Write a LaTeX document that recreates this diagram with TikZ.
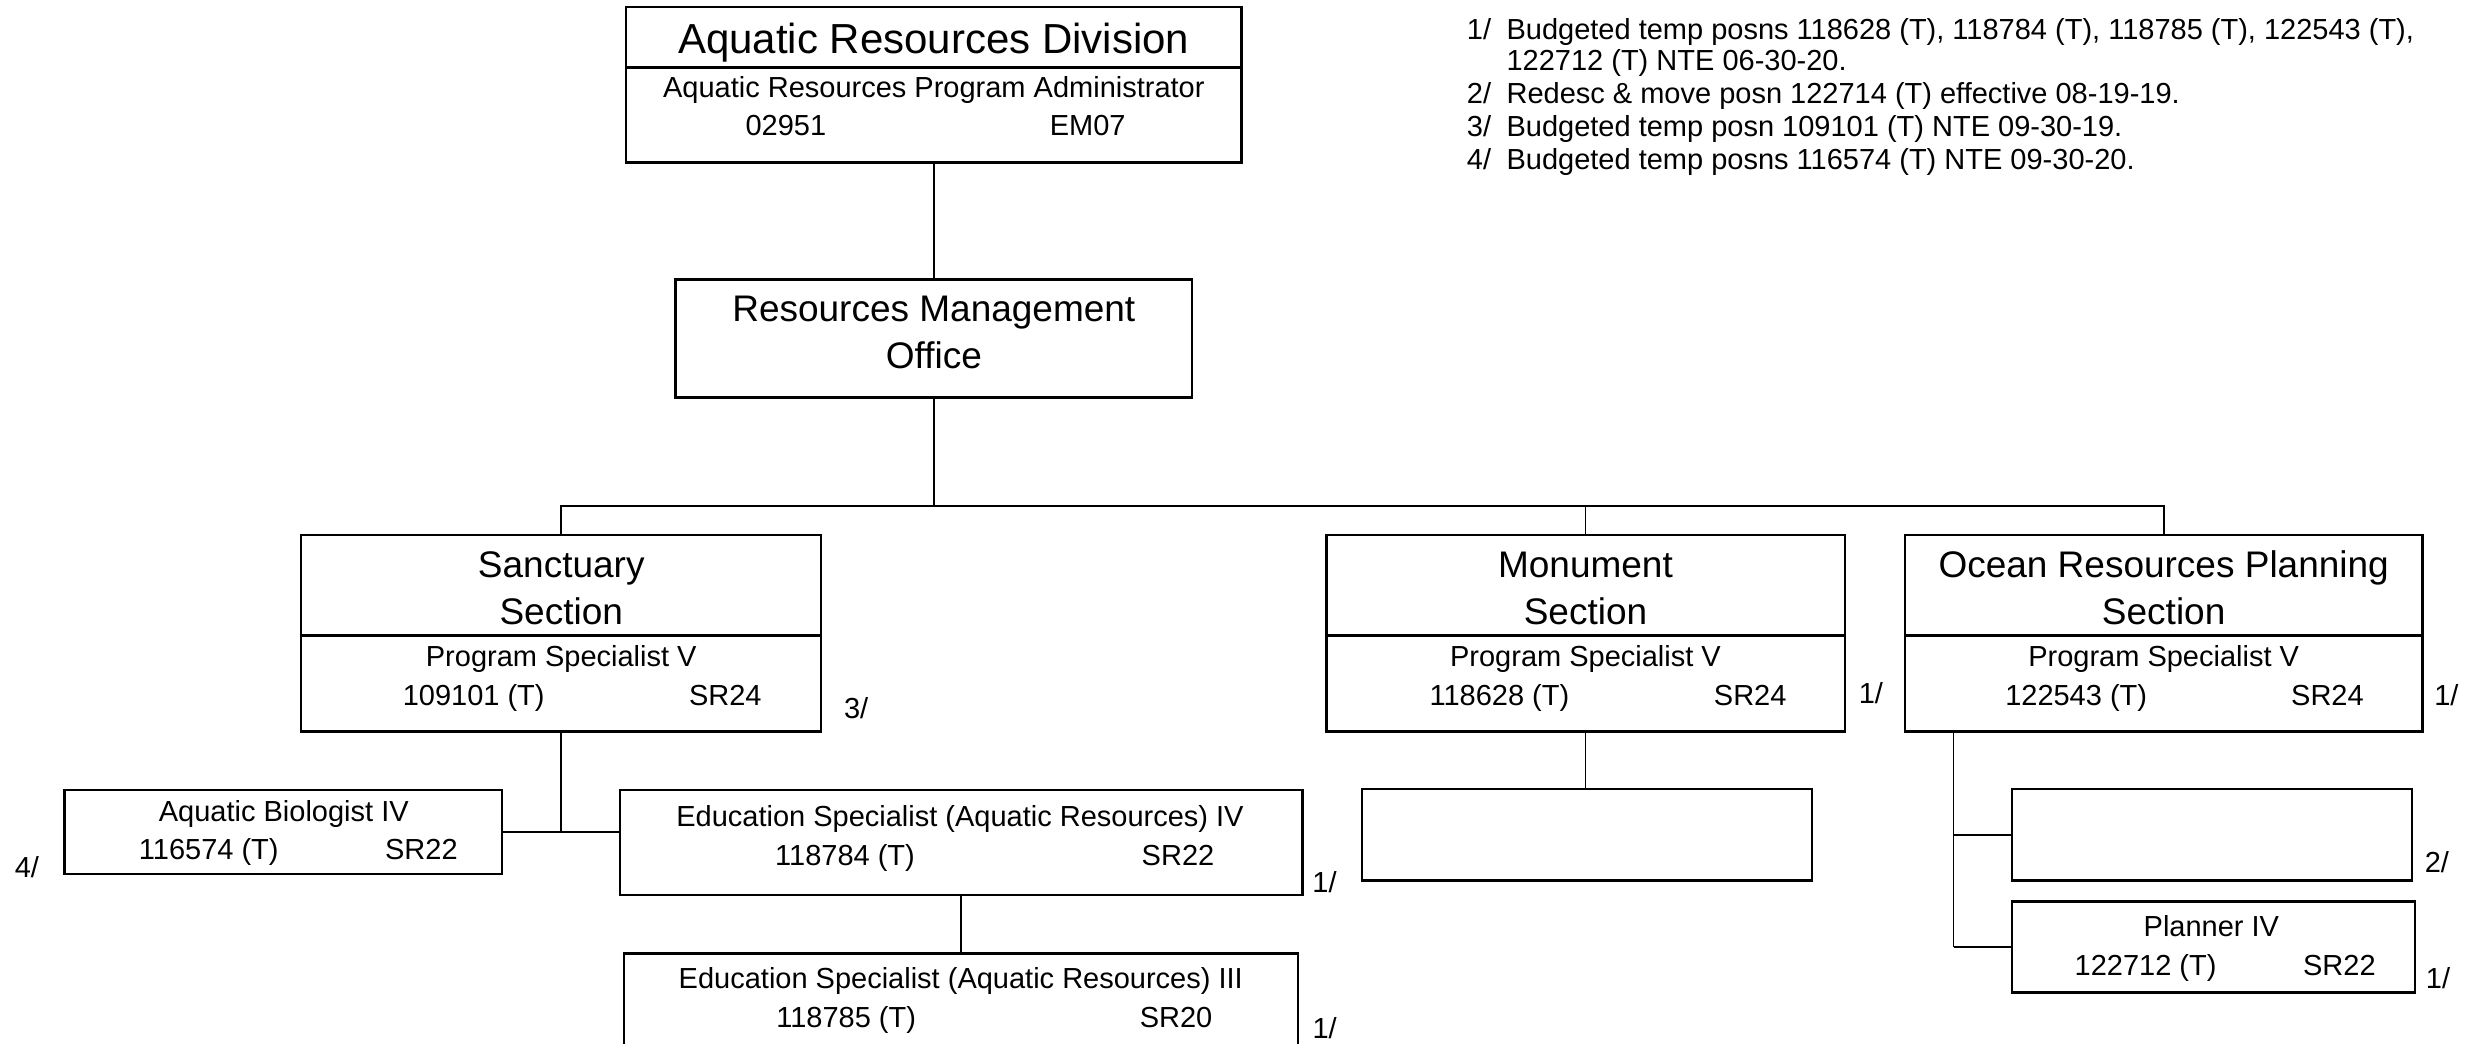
\documentclass[tikz,border=0pt]{standalone}
\usepackage{fontspec}
\setmainfont{Liberation Sans}
\usetikzlibrary{fit}
\begin{document}
\begin{tikzpicture}[x=0.7928pt,y=-0.7928pt,
  box/.style={draw, line width=1.2pt, inner sep=0pt, rectangle},
  divline/.style={line width=1.2pt},
  conn/.style={line width=0.85pt},
  branch/.style={line width=1.1pt},
  ttl/.style={font=\fontsize{21}{25}\selectfont, anchor=base, inner sep=0pt},
  big/.style={font=\fontsize{18.5}{22}\selectfont, anchor=base, inner sep=0pt},
  sm/.style={font=\fontsize{14.5}{17}\selectfont, anchor=base, inner sep=0pt},
  note/.style={font=\fontsize{14.5}{17}\selectfont, anchor=base west, inner sep=0pt}]
\useasboundingbox (0,0) rectangle (1568,658);
\clip (0,0) rectangle (1568,658);

% ---------- boxes ----------
\node[box, fit={(395,4.6) (783,102.4)}] (ard) {};
\node[box, fit={(426,176.2) (752,250.6)}] (rmo) {};
\node[box, fit={(190,337.4) (518,461.5)}] (sanct) {};
\node[box, fit={(836.6,337.4) (1163.6,461.5)}] (monu) {};
\node[box, fit={(1201.5,337.4) (1528,461.5)}] (orp) {};
\node[box, fit={(40.7,498.3) (316.8,551.1)}] (abiv) {};
\node[box, fit={(391,498.3) (821.6,564.5)}] (esiv) {};
\node[box, fit={(393.6,601.3) (818.8,680)}] (esiii) {};
\node[box, fit={(859,497.8) (1142.9,555.4)}] (monuc) {};
\node[box, fit={(1268.9,497.8) (1521.3,555.4)}] (orpc) {};
\node[box, fit={(1268.9,568.5) (1523.2,626)}] (plan) {};

% dividers
\draw[divline] (ard.west |- 0,42.7) -- (ard.east |- 0,42.7);
\draw[divline] (sanct.west |- 0,400.9) -- (sanct.east |- 0,400.9);
\draw[divline] (monu.west |- 0,400.9) -- (monu.east |- 0,400.9);
\draw[divline] (orp.west |- 0,400.9) -- (orp.east |- 0,400.9);

% ---------- texts ----------
\node[ttl] (t-ard) at (589,33.6) {Aquatic Resources Division};
\node[sm] (t-ard2) at (589,61.4) {Aquatic Resources Program Administrator};
\node[sm] (t-ard3) at (495.7,85.6) {02951};
\node[sm] (t-ard4) at (686,85.6) {EM07};

\node[big] (t-rmo1) at (589,202.9) {Resources Management};
\node[big] (t-rmo2) at (589,232.3) {Office};

\node[big] (t-s1) at (354,364.3) {Sanctuary};
\node[big] (t-s2) at (354,393.6) {Section};
\node[sm] (t-s3) at (354,420.5) {Program Specialist V};
\node[sm] (t-s4) at (298.8,444.7) {109101 (T)};
\node[sm] (t-s5) at (457.5,444.7) {SR24};
\node[sm] (f-s) at (540,453.3) {3/};

\node[big] (t-m1) at (1000,364.3) {Monument};
\node[big] (t-m2) at (1000,393.6) {Section};
\node[sm] (t-m3) at (1000,420.5) {Program Specialist V};
\node[sm] (t-m4) at (945.7,444.7) {118628 (T)};
\node[sm] (t-m5) at (1103.9,444.7) {SR24};
\node[sm] (f-m) at (1180,444) {1/};

\node[big] (t-o1) at (1364.7,364.3) {Ocean Resources Planning};
\node[big] (t-o2) at (1364.7,393.6) {Section};
\node[sm] (t-o3) at (1364.7,420.5) {Program Specialist V};
\node[sm] (t-o4) at (1309.5,444.7) {122543 (T)};
\node[sm] (t-o5) at (1468,444.7) {SR24};
\node[sm] (f-o) at (1543,445.2) {1/};

\node[sm] (t-a1) at (179,518.3) {Aquatic Biologist IV};
\node[sm] (t-a2) at (131.7,542.4) {116574 (T)};
\node[sm] (t-a3) at (265.8,542.4) {SR22};
\node[sm] (f-a) at (17,553.2) {4/};

\node[sm] (t-e1) at (605.5,521.6) {Education Specialist (Aquatic Resources) IV};
\node[sm] (t-e2) at (533,545.6) {118784 (T)};
\node[sm] (t-e3) at (743,545.6) {SR22};
\node[sm] (f-e) at (835.4,563) {1/};

\node[sm] (t-f1) at (606,623.5) {Education Specialist (Aquatic Resources) III};
\node[sm] (t-f2) at (533.7,648.2) {118785 (T)};
\node[sm] (t-f3) at (741.8,648.2) {SR20};
\node[sm] (f-f) at (835.5,655) {1/};

\node[sm] (f-c) at (1537,550) {2/};

\node[sm] (t-p1) at (1394.8,590.8) {Planner IV};
\node[sm] (t-p2) at (1353.3,615.5) {122712 (T)};
\node[sm] (t-p3) at (1475.5,615.5) {SR22};
\node[sm] (f-p) at (1537.7,623.2) {1/};

% ---------- notes ----------
\node[note] (n1) at (925,24.8) {1/};
\node[note] (n1a) at (950,24.8) {Budgeted temp posns 118628 (T), 118784 (T), 118785 (T), 122543 (T),};
\node[note] (n1b) at (950,44.2) {122712 (T) NTE 06-30-20.};
\node[note] (n2) at (925,65.6) {2/};
\node[note] (n2a) at (950,65.6) {Redesc \& move posn 122714 (T) effective 08-19-19.};
\node[note] (n3) at (925,86.2) {3/};
\node[note] (n3a) at (950,86.2) {Budgeted temp posn 109101 (T) NTE 09-30-19.};
\node[note] (n4) at (925,107.2) {4/};
\node[note] (n4a) at (950,107.2) {Budgeted temp posns 116574 (T) NTE 09-30-20.};

% ---------- connectors ----------
\coordinate (bus) at (354,319.1);
\coordinate (ot) at (1232.2,461.5);
\draw[conn] (ard.south) -- (rmo.north);
\draw[conn] (rmo.south) -- (rmo.south |- bus);
\draw[conn] (sanct.north) -- (bus) -| (orp.north);
\draw[conn] (monu.north) -- (monu.north |- bus);
\draw[conn] (sanct.south) -- (sanct.south |- abiv.east);
\draw[branch] (abiv.east) -- (abiv.east -| esiv.west);
\draw[conn] (esiv.south) -- (esiv.south |- esiii.north);
\draw[conn] (monu.south) -- (monu.south |- monuc.north);
\draw[conn] (ot) -- (ot |- plan.west);
\draw[branch] (ot |- plan.west) -- (plan.west);
\draw[branch] (ot |- orpc.west) -- (orpc.west);
\end{tikzpicture}
\end{document}
